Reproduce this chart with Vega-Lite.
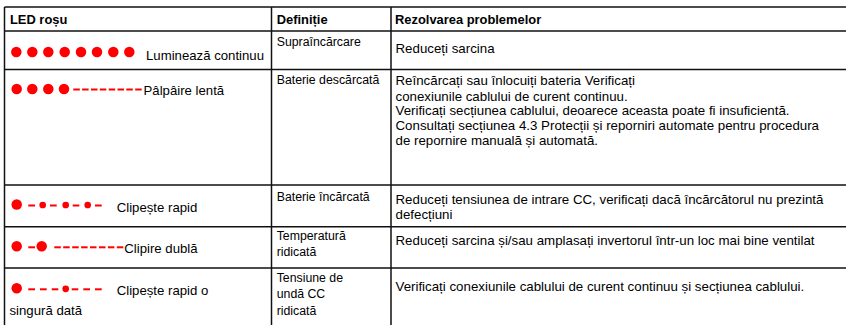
{
  "$schema": "https://vega.github.io/schema/vega-lite/v6.json",
  "width": 846,
  "height": 325,
  "padding": 0,
  "autosize": {"type": "none"},
  "background": "white",
  "config": {"view": {"stroke": null}},
  "datasets": {
    "lines": [
      {"x": 4.5, "x2": 846, "y": 7, "y2": 7},
      {"x": 4.5, "x2": 846, "y": 31, "y2": 31},
      {"x": 4.5, "x2": 846, "y": 69.5, "y2": 69.5},
      {"x": 4.5, "x2": 846, "y": 185, "y2": 185},
      {"x": 4.5, "x2": 846, "y": 226.7, "y2": 226.7},
      {"x": 4.5, "x2": 846, "y": 268, "y2": 268},
      {"x": 4.5, "x2": 4.5, "y": 7, "y2": 325},
      {"x": 271.5, "x2": 271.5, "y": 7, "y2": 325},
      {"x": 391, "x2": 391, "y": 7, "y2": 325}
    ],
    "dots": [
      {"x": 16.3, "y": 52, "kind": "big"},
      {"x": 32.3, "y": 52, "kind": "big"},
      {"x": 48.3, "y": 52, "kind": "big"},
      {"x": 64.7, "y": 52, "kind": "big"},
      {"x": 81, "y": 52, "kind": "big"},
      {"x": 97, "y": 52, "kind": "big"},
      {"x": 113.3, "y": 52, "kind": "big"},
      {"x": 129.3, "y": 52, "kind": "big"},
      {"x": 16.7, "y": 89, "kind": "big"},
      {"x": 32.3, "y": 89, "kind": "big"},
      {"x": 48.3, "y": 89, "kind": "big"},
      {"x": 64, "y": 89, "kind": "big"},
      {"x": 16.7, "y": 204.5, "kind": "big"},
      {"x": 42.7, "y": 205, "kind": "small"},
      {"x": 65.7, "y": 205, "kind": "small"},
      {"x": 87.7, "y": 205, "kind": "small"},
      {"x": 16.7, "y": 246.3, "kind": "big"},
      {"x": 41.7, "y": 246.3, "kind": "big"},
      {"x": 16.7, "y": 288.3, "kind": "big"},
      {"x": 65.7, "y": 288.8, "kind": "small"}
    ],
    "dashes": [
      {"x": 73.3, "x2": 79.8, "y": 89.5},
      {"x": 82.1, "x2": 88.6, "y": 89.5},
      {"x": 91.0, "x2": 97.5, "y": 89.5},
      {"x": 99.8, "x2": 106.3, "y": 89.5},
      {"x": 108.7, "x2": 115.2, "y": 89.5},
      {"x": 117.5, "x2": 124.0, "y": 89.5},
      {"x": 126.3, "x2": 132.8, "y": 89.5},
      {"x": 135.2, "x2": 141.7, "y": 89.5},
      {"x": 28.3, "x2": 35, "y": 205.5},
      {"x": 50, "x2": 56.7, "y": 205.5},
      {"x": 72.7, "x2": 79.3, "y": 205.5},
      {"x": 95, "x2": 101.7, "y": 205.5},
      {"x": 28.3, "x2": 35, "y": 247.3},
      {"x": 54.3, "x2": 60.8, "y": 247.3},
      {"x": 63.2, "x2": 69.7, "y": 247.3},
      {"x": 72.2, "x2": 78.7, "y": 247.3},
      {"x": 81.1, "x2": 87.6, "y": 247.3},
      {"x": 90.0, "x2": 96.5, "y": 247.3},
      {"x": 99.0, "x2": 105.5, "y": 247.3},
      {"x": 107.9, "x2": 114.4, "y": 247.3},
      {"x": 116.8, "x2": 123.3, "y": 247.3},
      {"x": 28.3, "x2": 35, "y": 289.3},
      {"x": 40, "x2": 46.7, "y": 289.3},
      {"x": 51.7, "x2": 58.3, "y": 289.3},
      {"x": 71.7, "x2": 78.3, "y": 289.3},
      {"x": 83.3, "x2": 90, "y": 289.3},
      {"x": 95, "x2": 101.7, "y": 289.3}
    ],
    "headers": [
      {"x": 10, "y": 24.3, "text": "LED roșu"},
      {"x": 276.7, "y": 24.3, "text": "Definiție"},
      {"x": 395, "y": 24.3, "text": "Rezolvarea problemelor"}
    ],
    "cells": [
      {"col": "led", "x": 146, "y": 60, "text": "Luminează continuu"},
      {"col": "led", "x": 143.5, "y": 94.5, "text": "Pâlpâire lentă"},
      {"col": "led", "x": 116.7, "y": 211.5, "text": "Clipește rapid"},
      {"col": "led", "x": 124.3, "y": 252.5, "text": "Clipire dublă"},
      {"col": "led", "x": 116.7, "y": 295, "text": "Clipește rapid o"},
      {"col": "led", "x": 9.5, "y": 315, "text": "singură dată"},
      {"col": "def", "x": 276.7, "y": 46.3, "text": "Supraîncărcare"},
      {"col": "def", "x": 276.7, "y": 84, "text": "Baterie descărcată"},
      {"col": "def", "x": 276.7, "y": 201, "text": "Baterie încărcată"},
      {"col": "def", "x": 276.7, "y": 240, "text": "Temperatură"},
      {"col": "def", "x": 276.7, "y": 255.5, "text": "ridicată"},
      {"col": "def", "x": 276.7, "y": 282, "text": "Tensiune de"},
      {"col": "def", "x": 276.7, "y": 298, "text": "undă CC"},
      {"col": "def", "x": 276.7, "y": 314.5, "text": "ridicată"},
      {"col": "fix", "x": 395.5, "y": 52.5, "text": "Reduceți sarcina"},
      {"col": "fix", "x": 395.5, "y": 85, "text": "Reîncărcați sau înlocuiți bateria Verificați"},
      {"col": "fix", "x": 395.5, "y": 100.5, "text": "conexiunile cablului de curent continuu."},
      {"col": "fix", "x": 395.5, "y": 114.5, "text": "Verificați secțiunea cablului, deoarece aceasta poate fi insuficientă."},
      {"col": "fix", "x": 395.5, "y": 129.5, "text": "Consultați secțiunea 4.3 Protecții și reporniri automate pentru procedura"},
      {"col": "fix", "x": 395.5, "y": 144.5, "text": "de repornire manuală și automată."},
      {"col": "fix", "x": 395.5, "y": 203.5, "text": "Reduceți tensiunea de intrare CC, verificați dacă încărcătorul nu prezintă"},
      {"col": "fix", "x": 395.5, "y": 218.5, "text": "defecțiuni"},
      {"col": "fix", "x": 395.5, "y": 244.5, "text": "Reduceți sarcina și/sau amplasați invertorul într-un loc mai bine ventilat"},
      {"col": "fix", "x": 395.5, "y": 290.5, "text": "Verificați conexiunile cablului de curent continuu și secțiunea cablului."}
    ]
  },
  "encoding": {
    "x": {"field": "x", "type": "quantitative", "scale": {"domain": [0, 846], "nice": false, "zero": false}, "axis": null},
    "y": {"field": "y", "type": "quantitative", "scale": {"domain": [0, 325], "nice": false, "zero": false, "reverse": true}, "axis": null}
  },
  "layer": [
    {
      "data": {"name": "lines"},
      "mark": {"type": "rule", "color": "#111111", "strokeWidth": 1.5},
      "encoding": {
        "x2": {"field": "x2"},
        "y2": {"field": "y2"}
      }
    },
    {
      "data": {"name": "dashes"},
      "mark": {"type": "rule", "color": "#ff0000", "strokeWidth": 2, "strokeCap": "butt"},
      "encoding": {
        "x2": {"field": "x2"}
      }
    },
    {
      "data": {"name": "dots"},
      "transform": [{"filter": "datum.kind === 'big'"}],
      "mark": {"type": "point", "shape": "circle", "filled": true, "color": "#ff0000", "opacity": 1, "strokeWidth": 0, "size": 110},
      "encoding": {}
    },
    {
      "data": {"name": "dots"},
      "transform": [{"filter": "datum.kind === 'small'"}],
      "mark": {"type": "point", "shape": "circle", "filled": true, "color": "#ff0000", "opacity": 1, "strokeWidth": 0, "size": 45},
      "encoding": {}
    },
    {
      "data": {"name": "headers"},
      "mark": {"type": "text", "align": "left", "baseline": "alphabetic", "font": "Liberation Sans", "fontWeight": "bold", "fontSize": 12.9, "color": "#000000"},
      "encoding": {"text": {"field": "text"}}
    },
    {
      "data": {"name": "cells"},
      "transform": [{"filter": "datum.col === 'led'"}],
      "mark": {"type": "text", "align": "left", "baseline": "alphabetic", "font": "Liberation Sans", "fontSize": 13.2, "color": "#000000"},
      "encoding": {"text": {"field": "text"}}
    },
    {
      "data": {"name": "cells"},
      "transform": [{"filter": "datum.col === 'def'"}],
      "mark": {"type": "text", "align": "left", "baseline": "alphabetic", "font": "Liberation Sans", "fontSize": 12.3, "color": "#000000"},
      "encoding": {"text": {"field": "text"}}
    },
    {
      "data": {"name": "cells"},
      "transform": [{"filter": "datum.col === 'fix'"}],
      "mark": {"type": "text", "align": "left", "baseline": "alphabetic", "font": "Liberation Sans", "fontSize": 13.3, "color": "#000000"},
      "encoding": {"text": {"field": "text"}}
    }
  ]
}
